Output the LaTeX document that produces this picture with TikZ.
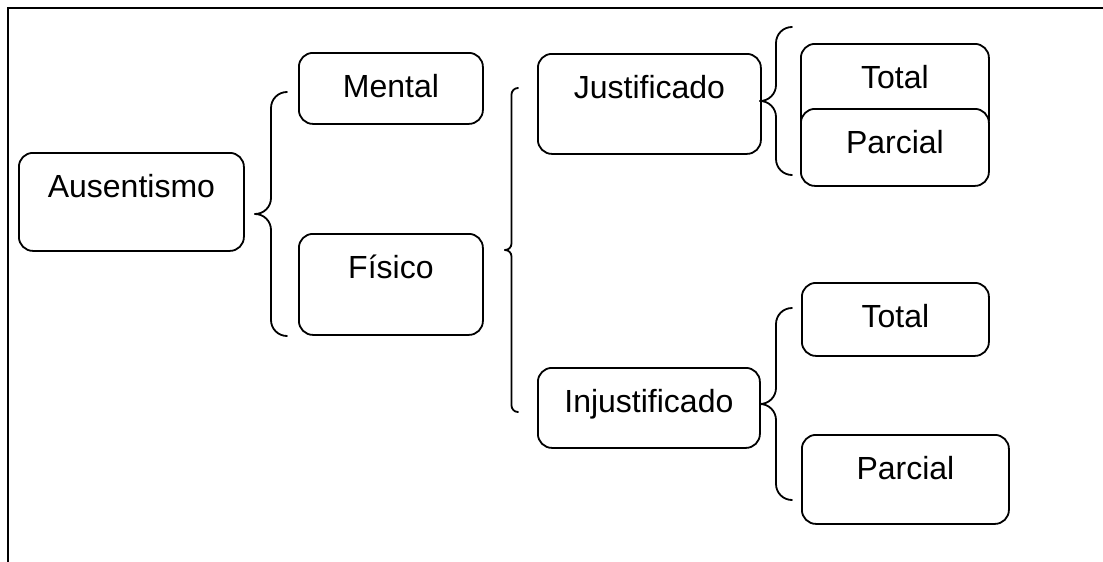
\documentclass[tikz,border=0pt]{standalone}
\usepackage{fontspec}
\setmainfont{Liberation Sans}
\usetikzlibrary{calc}
\tikzset{
	caja/.style={draw, line width=1.8pt, rounded corners=14pt, fill=white, inner sep=0pt, anchor=north west, text height=23pt, font=\fontsize{32pt}{38pt}\selectfont},
	llave/.style={line width=1.8pt, line cap=round, line join=round}
}
\def\llave(#1,#2,#3,#4){%
	\draw[llave, rounded corners=#4pt] (#1,#2) -- ({#1-#4},#2) -- ({#1-#4},{(#2+#3)/2}) -- ({#1-2*#4},{(#2+#3)/2});
	\draw[llave, rounded corners=#4pt] (#1,#3) -- ({#1-#4},#3) -- ({#1-#4},{(#2+#3)/2}) -- ({#1-2*#4},{(#2+#3)/2});}

\begin{document}
\begin{tikzpicture}[x=1pt, y=-1pt]
			%%%%% START %%%%%
			
			\useasboundingbox (0,0) rectangle (1103,562);
			\draw[line width=2.2pt] (8,562) -- (8,8) -- (1103,8);
			
			\node[caja, minimum width=225pt, minimum height=98pt, text depth=31pt] (aus) at (18,152) {Ausentismo};
			
			\node[caja, minimum width=184pt, minimum height=71pt, text depth=4pt] (mental) at (298,52) {Mental};
			\node[caja, minimum width=184pt, minimum height=101pt, text depth=34pt] (fisico) at (298,233) {Físico};
			
			\node[caja, minimum width=223pt, minimum height=100pt, text depth=33pt] (just) at (537,53) {Justificado};
			\node[caja, minimum width=222pt, minimum height=80pt, text depth=13pt] (injust) at (537,367) {Injustificado};
			
			\node[caja, minimum width=188pt, minimum height=90pt, text depth=23pt] (totalj) at (800,43) {Total};
			\node[caja, minimum width=188pt, minimum height=77pt, text depth=10pt] (parcialj) at (800,108) {Parcial};
			
			\node[caja, minimum width=187pt, minimum height=73pt, text depth=6pt] (totali) at (801,282) {Total};
			\node[caja, minimum width=207pt, minimum height=89pt, text depth=22pt] (parciali) at (801,434) {Parcial};
			
			\llave(287,92,336,16)
			\llave(518,88,412,6.5)
			\llave(792,27,175,16)
			\llave(792,308,500,16)
			
			%%%%% END %%%%%
\end{tikzpicture}
\end{document}
